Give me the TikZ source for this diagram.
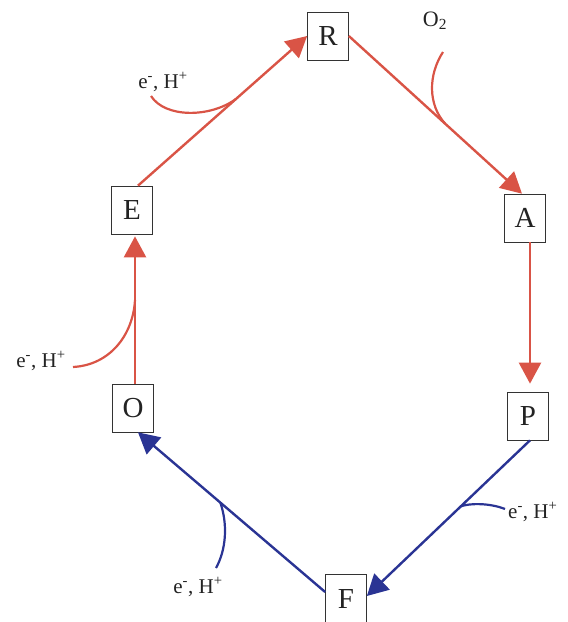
\documentclass[tikz,border=0pt]{standalone}
\usepackage{fontspec}
\setmainfont{Liberation Serif}
\usetikzlibrary{arrows.meta}
\definecolor{cred}{RGB}{217,84,70}
\definecolor{cblue}{RGB}{42,52,148}
\definecolor{ctext}{RGB}{35,35,35}
\tikzset{
  box/.style={draw=black!80, line width=0.7pt, minimum width=41pt, minimum height=48pt, inner sep=0pt, fill=white, text=ctext, font=\fontsize{29}{32}\selectfont},
  lbl/.style={text=ctext, inner sep=0pt, font=\fontsize{21}{23}\selectfont},
  redarrow/.style={draw=cred, line width=2.4pt, -{Triangle[length=21pt,width=22pt]}},
  bluearrow/.style={draw=cblue, line width=2.4pt, -{Triangle[length=21pt,width=22pt]}},
  redside/.style={draw=cred, line width=2.2pt},
  blueside/.style={draw=cblue, line width=2.2pt},
}
\begin{document}
\begin{tikzpicture}[x=1pt,y=-1pt]
\useasboundingbox (0,0) rectangle (568,622);
\node[box] (R) at (328,36) {R};
\node[box] (A) at (525,218) {A};
\node[box] (P) at (528,416) {P};
\node[box, minimum height=50pt] (F) at (346,599) {F};
\node[box] (O) at (133,408) {O};
\node[box] (E) at (132,210) {E};

% main cycle
\draw[redarrow] ([xshift=6pt]E.north) -- (R.west) coordinate[pos=0.58] (erj);
\draw[redarrow] (R.east) -- ([xshift=-3pt]A.north) coordinate[pos=0.557] (raj);
\draw[redarrow, shorten >=8pt] ([xshift=5pt]A.south) -- ([xshift=5pt]A.south |- P.north);
\draw[bluearrow] ([xshift=2pt]P.south) -- ([yshift=3pt]F.east) coordinate[pos=0.424] (pfj);
\draw[bluearrow] ([yshift=7pt]F.west) -- ([xshift=5pt]O.south) coordinate[pos=0.56] (foj);
\draw[redarrow, shorten >=2pt] ([xshift=2pt]O.north) -- ([xshift=2pt]O.north |- E.south) coordinate[pos=0.56] (oej);

% side inputs
\coordinate (o2s) at (443,52);
\draw[redside] (o2s) .. controls (428,75) and (428,105) .. (raj);
\node[lbl, font=\fontsize{22}{24}\selectfont] (o2) at (435,21) {O\textsubscript{2}};

\coordinate (ers) at (151,96);
\draw[redside] (ers) .. controls (165,118) and (210,118) .. (erj);
\node[lbl] (erl) at (163,82) {e\textsuperscript{-}, H\textsuperscript{+}};

\coordinate (oes) at (73,367);
\draw[redside] (oes) .. controls (110,365) and (133,335) .. (oej);
\node[lbl] (oel) at (41,361) {e\textsuperscript{-}, H\textsuperscript{+}};

\coordinate (pfs) at (505,509);
\draw[blueside] (pfs) .. controls (490,503) and (470,503) .. (pfj);
\node[lbl, anchor=west] (pfl) at (508,512) {e\textsuperscript{-}, H\textsuperscript{+}};

\coordinate (fos) at (216,568);
\draw[blueside] (fos) .. controls (226,550) and (228,525) .. (foj);
\node[lbl] (fol) at (198,587) {e\textsuperscript{-}, H\textsuperscript{+}};
\end{tikzpicture}
\end{document}
